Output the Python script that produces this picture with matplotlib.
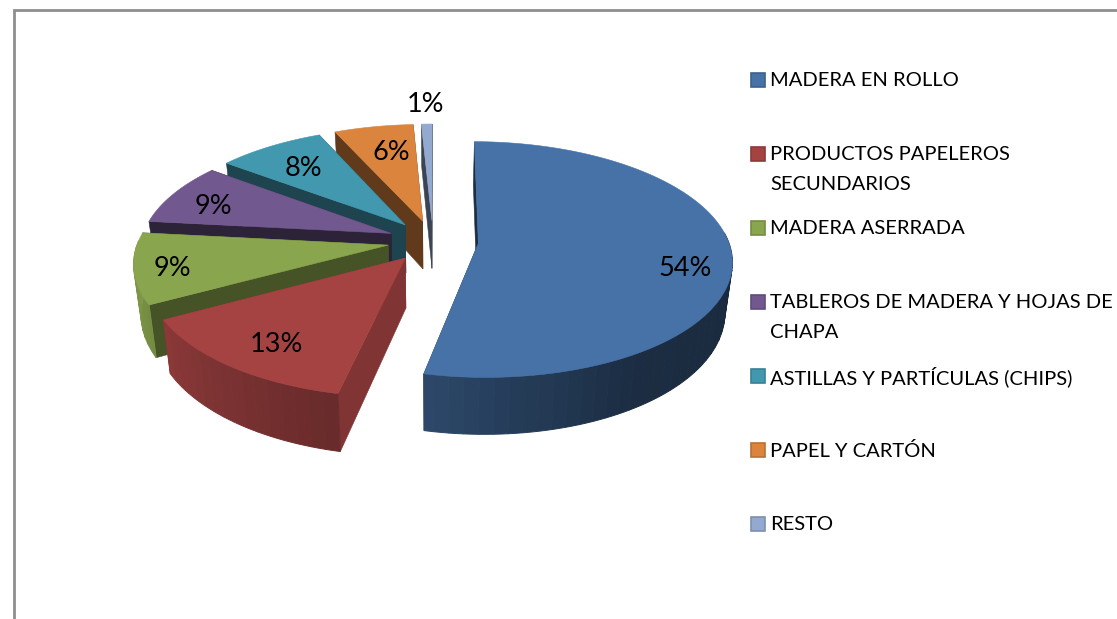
#! /usr/bin/env python3

#########################################################
# Exploded 3D pie, drawn by hand since matplotlib has no 3D pie
#########################################################
import numpy as np
import matplotlib
matplotlib.use('Agg')
import matplotlib.pyplot as plt
from matplotlib.patches import Polygon, Rectangle

#########################################################
# Data
#########################################################
categories = ['MADERA EN ROLLO', 'PRODUCTOS PAPELEROS\nSECUNDARIOS', 'MADERA ASERRADA',
              'TABLEROS DE MADERA Y HOJAS DE\nCHAPA', 'ASTILLAS Y PARTÍCULAS (CHIPS)',
              'PAPEL Y CARTÓN', 'RESTO']
# printed labels
values = [54, 13, 9, 9, 8, 6, 1]
shares = [53.3, 13.6, 9.7, 8.6, 8.0, 5.9, 0.8]
colors = ['#4672A8', '#A54343', '#89A54E', '#71588F', '#4198AF', '#DB843D', '#93A9CF']
wall_shade = [0.40, 0.78, 0.50, 0.40, 0.45, 0.44, 0.40]

#########################################################
# Globals
#########################################################
W, H = 1117, 619
CX, CY = 433, 241
RX, RY = 250, 115
PERSP = 0.137
EXPLODE = 0.182
DEPTH = 49
TAPER = 0.025
START = 0.4
FONT = 'Lato'
LABEL_X = [685, 276, 172, 213, 303, 391, 426]
LABEL_Y = [269, 345, 269, 207, 168, 153, 105]


def project(u, v, z=0.0):
    s = 1.0 / (1.0 - PERSP * v)
    # the underside is a bit further away, so it pulls in towards the middle
    t = 1.0 - TAPER * z / DEPTH
    return CX + RX * u * s * t, CY + RY * v * s + z * s


def polar(a, r=1.0, off=(0.0, 0.0)):
    a = np.radians(a)
    return off[0] + r * np.sin(a), off[1] - r * np.cos(a)


def shade(c, f):
    rgb = np.array(matplotlib.colors.to_rgb(c))
    return tuple(np.clip(rgb * f, 0, 1))


def rim_shade(a):
    return np.interp(a, [90, 150, 190, 240, 275], [0.36, 0.40, 0.62, 0.84, 0.95])


def poly(ax, pts, col, z, lw=0.4):
    ax.add_patch(Polygon(pts, closed=True, facecolor=col, edgecolor=col, lw=lw, zorder=z))


def draw_slice(ax, a0, a1, col, wshade, z):
    mid = (a0 + a1) / 2.0
    off = polar(mid, EXPLODE)
    angles = np.linspace(a0, a1, max(int((a1 - a0) * 2), 6))
    rim = [polar(a, 1.0, off) for a in angles]
    apex_top = project(off[0], off[1])
    apex_bot = project(off[0], off[1], DEPTH)
    # the two cut walls
    for p in (rim[0], rim[-1]):
        poly(ax, [apex_top, project(*p), project(p[0], p[1], DEPTH), apex_bot], shade(col, wshade), z)
    # outer rim, strips every few degrees so the shading can change along it
    step = 6
    for i in range(0, len(rim) - 1, step):
        j = min(i + step, len(rim) - 1)
        a_mid = (angles[i] + angles[j]) / 2.0
        # back half of the rim faces away
        if a_mid < 85 or a_mid > 272:
            continue
        side = [project(*p) for p in rim[i:j + 1]] + [project(p[0], p[1], DEPTH) for p in rim[i:j + 1][::-1]]
        poly(ax, side, shade(col, rim_shade(a_mid)), z + 0.1, lw=0.7)
    # top face
    poly(ax, [apex_top] + [project(*p) for p in rim], col, z + 0.2)


def main():
    fig = plt.figure(figsize=(W / 100.0, H / 100.0), dpi=100)
    ax = fig.add_axes([0, 0, 1, 1])
    ax.set_xlim(0, W)
    ax.set_ylim(H, 0)
    ax.axis('off')

    # chart frame, cut off at the right and bottom
    ax.plot([14, 14, W], [H, 10, 10], color='#8E8E8E', lw=2.0, solid_joinstyle='miter', zorder=1)

    edges = START + np.cumsum([0] + shares) * 3.6
    # slices furthest away get painted first
    order = [6, 5, 4, 3, 2, 1, 0]
    for n, i in enumerate(order):
        draw_slice(ax, edges[i], edges[i + 1], colors[i], wall_shade[i], 2 + n)

    for i, val in enumerate(values):
        ax.text(LABEL_X[i], LABEL_Y[i], '{}%'.format(val), fontsize=19.5, family=FONT, color='black',
                ha='center', va='center', zorder=20)

    # legend
    for i, name in enumerate(categories):
        y = 80 + 74 * i
        ax.add_patch(Rectangle((750.5, y - 7), 14, 14, facecolor=colors[i],
                               edgecolor=shade(colors[i], 0.85), lw=1.2, zorder=5))
        for j, line in enumerate(name.split('\n')):
            ax.text(770, y + 1 + 29 * j, line, fontsize=14.5, family=FONT, color='black',
                    ha='left', va='center', zorder=5)

    fig.savefig('out.png', dpi=100)
    plt.close(fig)


if __name__ == "__main__":
    main()
